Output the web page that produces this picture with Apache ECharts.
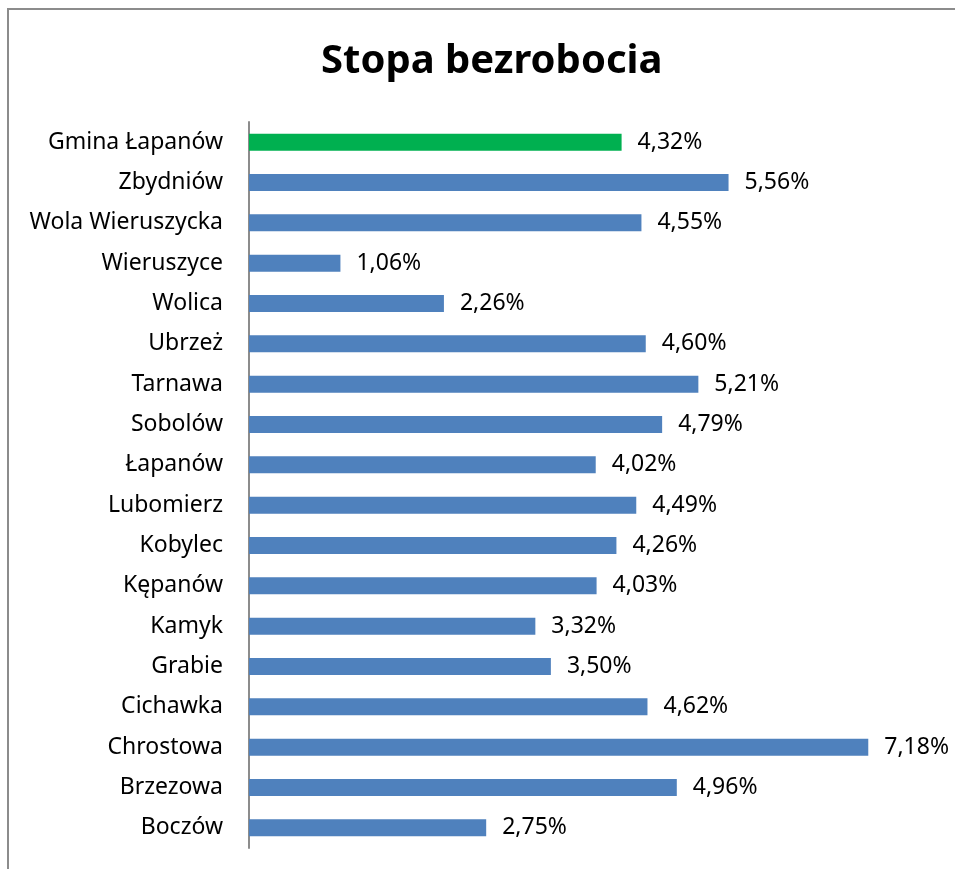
<!DOCTYPE html>
<html>
<head>
    <meta charset="utf-8">
    <title>Stopa bezrobocia</title>
    <script src="https://cdn.jsdelivr.net/npm/echarts@6.0.0/dist/echarts.min.js"></script>
    <style>
        body { margin: 0; background: #fff; }
    </style>
</head>
<body>
    <div id="chart" style="width: 955px; height: 869px;"></div>
    <script>
        // kategorie od góry do dołu
        var categories = ['Gmina Łapanów', 'Zbydniów', 'Wola Wieruszycka', 'Wieruszyce', 'Wolica', 'Ubrzeż',
            'Tarnawa', 'Sobolów', 'Łapanów', 'Lubomierz', 'Kobylec', 'Kępanów', 'Kamyk', 'Grabie',
            'Cichawka', 'Chrostowa', 'Brzezowa', 'Boczów'];
        var values = [4.32, 5.56, 4.55, 1.06, 2.26, 4.60, 5.21, 4.79, 4.02, 4.49, 4.26, 4.03, 3.32, 3.50,
            4.62, 7.18, 4.96, 2.75];
        var highlight = 'Gmina Łapanów';

        var font = '"Noto Sans", "Open Sans", sans-serif';
        var chart = echarts.init(document.getElementById('chart'));

        var option = {
            animation: false,
            title: {
                text: 'Stopa bezrobocia',
                left: 316,
                top: 37,
                textStyle: { fontFamily: font, fontSize: 40, fontWeight: 'bold', color: '#000' }
            },
            graphic: [{
                type: 'polyline',
                shape: { points: [[8, 869], [8, 9], [955, 9]] },
                style: { stroke: '#8c8c8c', lineWidth: 2, fill: null }
            }],
            grid: { left: 249, right: 16, top: 122, bottom: 21 },
            xAxis: {
                type: 'value',
                min: 0,
                max: 8,
                show: false
            },
            yAxis: {
                type: 'category',
                data: categories,
                inverse: true,
                axisLine: { lineStyle: { color: '#8c8c8c', width: 2 } },
                axisTick: { show: false },
                axisLabel: { fontFamily: font, fontSize: 23, color: '#000', margin: 26 }
            },
            series: [{
                type: 'bar',
                barWidth: 17,
                data: values.map(function (v, i) {
                    return {
                        value: v,
                        itemStyle: { color: categories[i] === highlight ? '#00B050' : '#4F81BD' }
                    };
                }),
                label: {
                    show: true,
                    position: 'right',
                    distance: 16,
                    fontFamily: font,
                    fontSize: 23,
                    color: '#000',
                    formatter: function (p) {
                        return p.value.toFixed(2).replace('.', ',') + '%';
                    }
                }
            }]
        };

        chart.setOption(option);
    </script>
</body>
</html>
